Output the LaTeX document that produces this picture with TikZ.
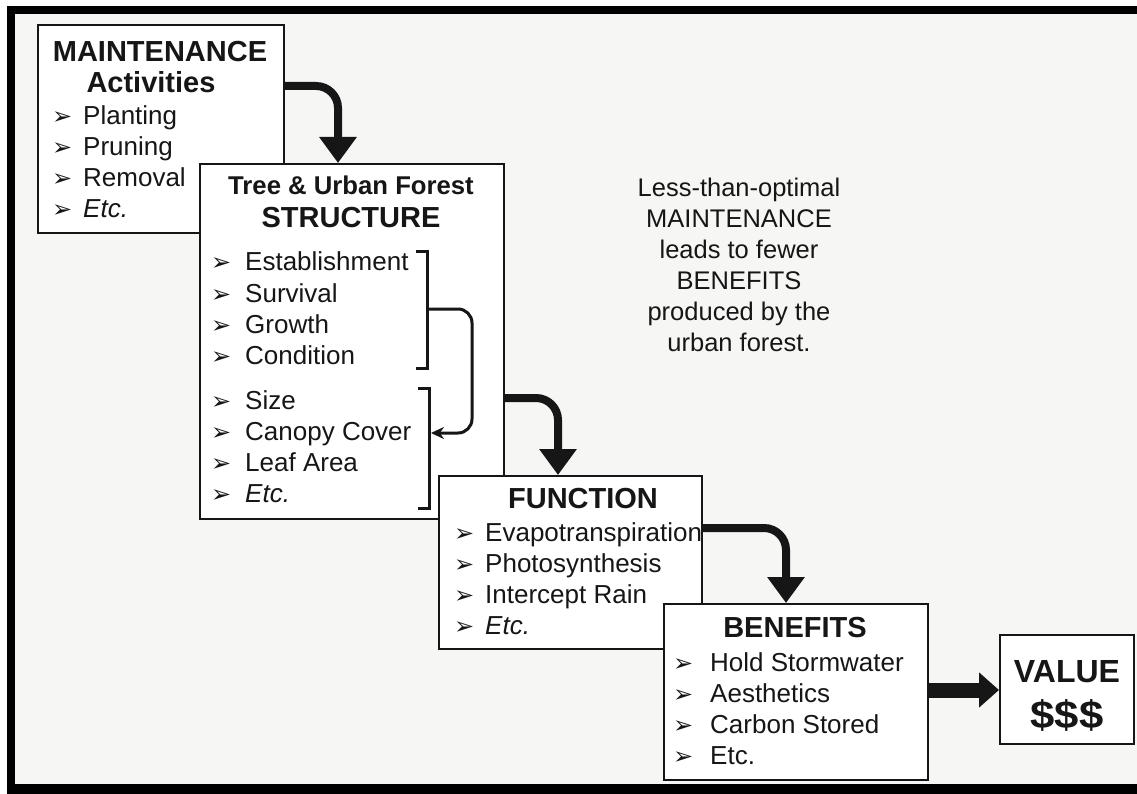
\documentclass[tikz,border=0pt]{standalone}
\usepackage{fontspec}
\setmainfont{Liberation Sans}
\newfontfamily\dejavu{DejaVu Sans}
\usetikzlibrary{arrows.meta}
\definecolor{paper}{RGB}{246,246,244}
\definecolor{ink}{RGB}{22,22,22}
\newcommand{\bul}{{\dejavu\fontsize{24}{24}\selectfont ➢}}
\begin{document}
\begin{tikzpicture}[x=1pt,y=-1pt,
  box/.style={draw=ink, line width=2.2pt, fill=white, rectangle, inner sep=0pt, anchor=north west},
  headbig/.style={font=\bfseries\fontsize{29}{29}\selectfont, anchor=base, inner sep=0pt, text=ink},
  headsmall/.style={font=\bfseries\fontsize{25.7}{25.7}\selectfont, anchor=base, inner sep=0pt, text=ink},
  item/.style={font=\fontsize{26}{26}\selectfont, anchor=base west, inner sep=0pt, text=ink},
  bulletmark/.style={anchor=base west, inner sep=0pt, text=ink},
  note/.style={font=\fontsize{25.5}{25.5}\selectfont, anchor=base, inner sep=0pt, text=ink},
  bigarrow/.style={draw=ink, line width=8pt, rounded corners=22pt, -{Triangle[width=36pt,length=26pt]}},
  fatarrow/.style={draw=ink, line width=15pt, -{Triangle[width=34pt,length=20pt]}},
  bracketline/.style={draw=ink, line width=3pt},
  loopline/.style={draw=ink, line width=3pt, rounded corners=14pt, -{Stealth[length=13pt,width=12pt]}}
]
% canvas and frame
\path[fill=white] (0,0) rectangle (1137,794);
\path[fill=paper] (15,14) rectangle (1137,784);
\path[fill=black] (7,6) rectangle (1137,14);
\path[fill=black] (7,6) rectangle (15,794);
\path[fill=black] (7,784) rectangle (1137,794);
\useasboundingbox (0,0) rectangle (1137,794);

% boxes
\node[box, minimum width=246pt, minimum height=208pt] (m) at (37,24) {};
\node[box, minimum width=304pt, minimum height=355pt] (s) at (199,163) {};
\node[box, minimum width=263pt, minimum height=173pt] (f) at (438,475) {};
\node[box, minimum width=264pt, minimum height=176pt] (b) at (663,603) {};
\node[box, minimum width=134pt, minimum height=109pt] (v) at (999,634) {};

% box 1
\node[headbig] (mh1) at (160,62) {MAINTENANCE};
\node[headbig] (mh2) at (151,93) {Activities};
\foreach \t [count=\i] in {Planting,Pruning,Removal,{\textit{Etc.}}} {
  \node[bulletmark, name=mb\i] at (52,{125+31*(\i-1)}) {\bul};
  \node[item, name=mt\i] at (83,{125+31*(\i-1)}) {\t};
}

% box 2
\node[headsmall] (sh1) at (351,195) {Tree \& Urban Forest};
\node[headbig] (sh2) at (351,228) {STRUCTURE};
\foreach \t [count=\i] in {Establishment,Survival,Growth,Condition} {
  \node[bulletmark, name=sb\i] at (211,{271+31*(\i-1)}) {\bul};
  \node[item, name=st\i] at (245,{271+31*(\i-1)}) {\t};
}
\foreach \t [count=\i] in {Size,Canopy Cover,Leaf Area,{\textit{Etc.}}} {
  \node[bulletmark, name=sc\i] at (211,{409+31*(\i-1)}) {\bul};
  \node[item, name=su\i] at (245,{409+31*(\i-1)}) {\t};
}

% box 3
\node[headbig] (fh) at (583,508) {FUNCTION};
\foreach \t [count=\i] in {Evapotranspiration,Photosynthesis,Intercept Rain,{\textit{Etc.}}} {
  \node[bulletmark, name=fb\i] at (454,{541+31*(\i-1)}) {\bul};
  \node[item, name=ft\i] at (485,{541+31*(\i-1)}) {\t};
}

% box 4
\node[headbig] (bh) at (795,637) {BENEFITS};
\foreach \t [count=\i] in {Hold Stormwater,Aesthetics,Carbon Stored,Etc.} {
  \node[bulletmark, name=bb\i] at (673,{671+31*(\i-1)}) {\bul};
  \node[item, name=bt\i] at (710,{671+31*(\i-1)}) {\t};
}

% box 5
\node[font=\bfseries\fontsize{32}{32}\selectfont, anchor=base, inner sep=0pt, text=ink] (vh) at (1067,682) {VALUE};
\node[font=\bfseries\fontsize{39}{39}\selectfont, anchor=base, inner sep=0pt, text=ink] (vd) at (1067,728) {\scalebox{1.12}[1]{\$\$\$}};

% note
\foreach \t [count=\i] in {Less-than-optimal,MAINTENANCE,leads to fewer,BENEFITS,produced by the,urban forest.} {
  \node[note, name=n\i] at (739,{197+30.8*(\i-1)}) {\t};
}

% helper coordinates
\coordinate (y1) at (0,86);
\coordinate (x1) at (338,0);
\coordinate (y2) at (0,398);
\coordinate (x2) at (558,0);
\coordinate (y3) at (0,528);
\coordinate (x3) at (786,0);
\coordinate (y4) at (0,690);

% big arrows
\draw[bigarrow] (m.east |- y1) -| (s.north -| x1);
\draw[bigarrow] (s.east |- y2) -| (f.north -| x2);
\draw[bigarrow] (f.east |- y3) -| (b.north -| x3);
\draw[fatarrow] (b.east |- y4) -- (v.west |- y4);

% brackets inside structure box
\coordinate (k1t) at (427,252);
\coordinate (k1b) at (427,368);
\coordinate (k1m) at (427,309);
\coordinate (k2t) at (429,388);
\coordinate (k2b) at (429,508);
\coordinate (k2m) at (431,433);
\coordinate (lp) at (472,0);
\draw[bracketline] ([xshift=-11pt]k1t) -- (k1t) -- (k1b) -- ([xshift=-11pt]k1b);
\draw[bracketline] ([xshift=-11pt]k2t) -- (k2t) -- (k2b) -- ([xshift=-11pt]k2b);
\draw[loopline] (k1m) -| (lp |- k2m) -- (k2m);
\end{tikzpicture}
\end{document}
